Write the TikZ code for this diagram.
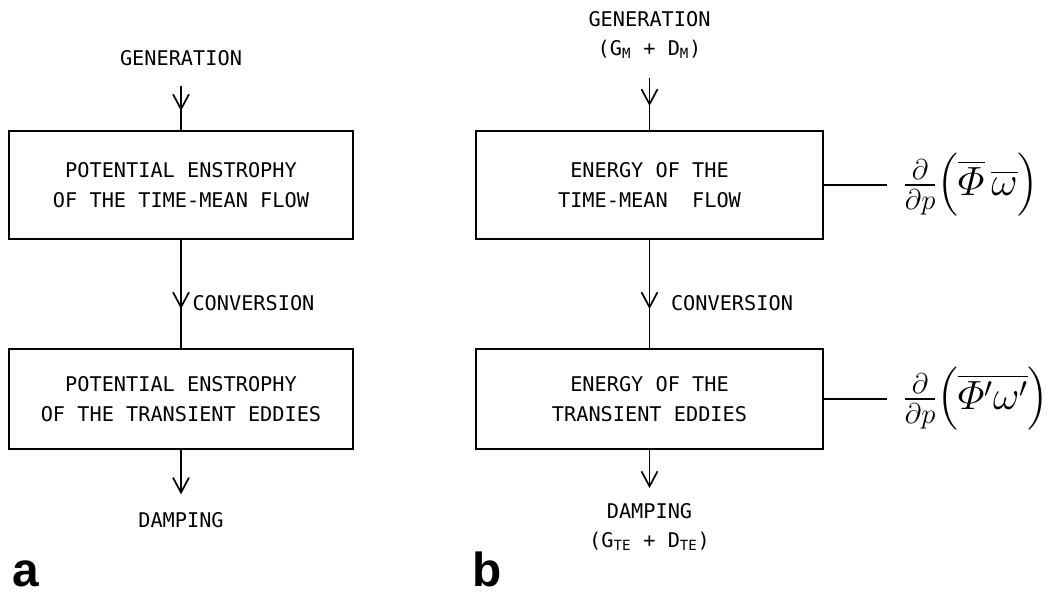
\RequirePackage{fix-cm}
\documentclass[tikz,border=0pt]{standalone}
\usepackage{amsmath}
\usepackage{fontspec}
\setmonofont{DejaVu Sans Mono}
\setsansfont{Liberation Sans}
\usetikzlibrary{arrows.meta, positioning, decorations.markings}

\newcommand{\flowfont}{\ttfamily\fontsize{14.4}{21}\selectfont}

\begin{document}
\begin{tikzpicture}[x=0.025cm, y=-0.025cm,
    block/.style={rectangle, draw, line width=1.4pt, minimum width=8.6cm, align=center, font=\flowfont},
    lbl/.style={align=center, font=\flowfont},
    flow/.style={line width=1.2pt},
    midarrow/.style={postaction={decorate}, decoration={markings, mark=at position #1 with {\arrow{Straight Barb[length=0.375cm, width=0.4cm]}}}},
    endarrow/.style={-{Straight Barb[length=0.375cm, width=0.4cm]}},
    formula/.style={anchor=west, inner xsep=0.4cm, font=\fontsize{29}{32}\selectfont},
    panel/.style={font=\fontsize{34}{38}\selectfont\sffamily\bfseries}
]
\useasboundingbox (0,0) rectangle (1058,597);

% Panel a: potential enstrophy
\node[block, minimum height=2.7cm] (pe_mean) at (181,185) {POTENTIAL ENSTROPHY\\OF THE TIME-MEAN FLOW};
\node[block, minimum height=2.5cm] (pe_eddy) at (181,399) {POTENTIAL ENSTROPHY\\OF THE TRANSIENT EDDIES};
\node[lbl] (gen_a) at (181,58) {GENERATION};
\node[lbl] (damp_a) at (181,520) {DAMPING};

\draw[flow, midarrow=-0.475cm, shorten <=0.375cm] (gen_a) -- (pe_mean);
\draw[flow, midarrow=-0.975cm] (pe_mean) -- node[lbl, right, pos=0.58, xshift=0.15cm] {CONVERSION} (pe_eddy);
\draw[flow, endarrow, shorten >=0.325cm] (pe_eddy) -- (damp_a);

% Panel b: energy
\node[block, minimum width=8.675cm, minimum height=2.7cm] (en_mean) at (649.5,185) {ENERGY OF THE\\TIME-MEAN\ \ FLOW};
\node[block, minimum width=8.675cm, minimum height=2.5cm] (en_eddy) at (649.5,399) {ENERGY OF THE\\TRANSIENT EDDIES};
\node[lbl] (gen_b) at (649.5,35) {GENERATION\\(G$_{\texttt{M}}$ + D$_{\texttt{M}}$)};
\node[lbl] (damp_b) at (649.5,527) {DAMPING\\(G$_{\texttt{TE}}$ + D$_{\texttt{TE}}$)};

\draw[flow, midarrow=-0.6cm, shorten <=0.35cm] (gen_b) -- (en_mean);
\draw[flow, midarrow=-0.975cm] (en_mean) -- node[lbl, right, pos=0.58, xshift=0.4cm] {CONVERSION} (en_eddy);
\draw[flow, endarrow, shorten >=0.25cm] (en_eddy) -- (damp_b);

% flux terms
\node[formula] (flux_mean) at (887,185) {$\tfrac{\partial}{\partial p}\bigl(\overline{\varPhi}\,\overline{\omega}\bigr)$};
\node[formula] (flux_eddy) at (887,399) {$\tfrac{\partial}{\partial p}\bigl(\overline{\varPhi'\omega'}\bigr)$};
\draw[flow] (en_mean.east) -- (flux_mean.west);
\draw[flow] (en_eddy.east) -- (flux_eddy.west);

% panel letters
\node[panel] (lab_a) at (26,574) {a};
\node[panel] (lab_b) at (487,569) {b};
\end{tikzpicture}
\end{document}
